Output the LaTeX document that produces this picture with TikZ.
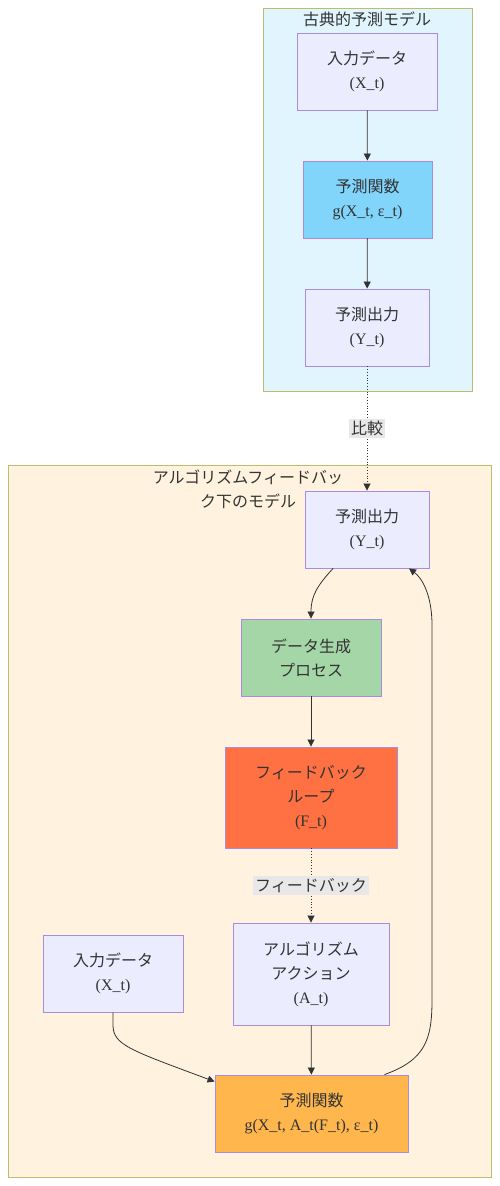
\documentclass[tikz,border=0pt]{standalone}
\usepackage{fontspec}
\setmainfont{Liberation Serif}
\newfontfamily\cjk{Noto Sans CJK JP}
\usetikzlibrary{arrows.meta}
\definecolor{ink}{HTML}{333333}
\definecolor{boxfill}{HTML}{ECECFF}
\definecolor{boxline}{HTML}{A98BDF}
\definecolor{clusterline}{HTML}{BDBD6E}
\definecolor{classicfill}{HTML}{E1F5FE}
\definecolor{loopfill}{HTML}{FFF3E0}
\definecolor{bluefill}{HTML}{81D4FA}
\definecolor{greenfill}{HTML}{A5D6A7}
\definecolor{redfill}{HTML}{FF7043}
\definecolor{orangefill}{HTML}{FFB74D}
\definecolor{lblfill}{HTML}{E8E8E8}
\tikzset{
  block/.style={rectangle, draw=boxline, fill=boxfill, line width=0.9pt,
                align=center, inner sep=0pt, text=ink,
                font=\fontsize{16}{24}\selectfont},
  cluster/.style={rectangle, draw=clusterline, line width=0.9pt,
                  inner sep=0pt},
  title/.style={align=center, inner sep=0pt, text=ink,
                font=\fontsize{16}{24}\selectfont\cjk},
  edgelabel/.style={fill=lblfill, inner sep=2pt, text=ink,
                    font=\fontsize{16}{20}\selectfont\cjk},
  arrow/.style={-{Triangle[length=7pt, width=7pt]}, line width=0.8pt, draw=ink},
}

\begin{document}
\begin{tikzpicture}[x=1pt, y=-1pt]
  \useasboundingbox (0,0) rectangle (499,1186);

  % clusters
  \node[cluster, fill=classicfill, minimum width=209pt, minimum height=383pt]
    (classic) at (367.5,199.5) {};
  \node[title] (classictitle) at (367,19) {古典的予測モデル};
  \node[cluster, fill=loopfill, minimum width=483pt, minimum height=712pt]
    (loop) at (249.5,821) {};
  \node[title] (looptitle) at (248,489) {アルゴリズムフィードバッ\\ク下のモデル};

  % classical model
  \node[block, minimum width=140pt, minimum height=77pt] (inA) at (367,71.5)
    {{\cjk 入力データ}\\(X\_t)};
  \node[block, fill=bluefill, minimum width=129pt, minimum height=77pt] (fnA) at (367.5,199.5)
    {{\cjk 予測関数}\\g(X\_t, ε\_t)};
  \node[block, minimum width=124pt, minimum height=77pt] (outA) at (367,327.5)
    {{\cjk 予測出力}\\(Y\_t)};

  % model under algorithmic feedback
  \node[block, minimum width=124pt, minimum height=77pt] (outB) at (367,529.5)
    {{\cjk 予測出力}\\(Y\_t)};
  \node[block, fill=greenfill, minimum width=140pt, minimum height=77pt] (gen) at (311,657.5)
    {{\cjk データ生成}\\{\cjk プロセス}};
  \node[block, fill=redfill, minimum width=172pt, minimum height=101pt] (fb) at (311,797.5)
    {{\cjk フィードバック}\\{\cjk ループ}\\(F\_t)};
  \node[block, minimum width=156pt, minimum height=102pt] (act) at (311,974)
    {{\cjk アルゴリズム}\\{\cjk アクション}\\(A\_t)};
  \node[block, minimum width=140pt, minimum height=77pt] (inB) at (113,973.5)
    {{\cjk 入力データ}\\(X\_t)};
  \node[block, fill=orangefill, minimum width=193pt, minimum height=77pt] (fnB) at (311.5,1113.5)
    {{\cjk 予測関数}\\g(X\_t, A\_t(F\_t), ε\_t)};

  \draw[arrow] (inA) -- (fnA);
  \draw[arrow] (fnA) -- (outA);
  \draw[arrow, dotted] (outA) -- node[edgelabel] (cmp) {比較} (outB);
  \draw[arrow] ([xshift=-34pt]outB.south) .. controls (318,585) and (311,595) .. (gen.north);
  \draw[arrow] (gen) -- (fb);
  \draw[arrow, dotted] (fb) -- node[edgelabel] (fbl) {フィードバック} (act);
  \draw[arrow] (act) -- (fnB);
  \draw[arrow] (inB.south) -- (113,1025) .. controls (113,1045) and (130,1050)
    .. ([yshift=-7pt]fnB.north west);
  \draw[arrow] ([xshift=73pt]fnB.north) .. controls (425,1060) and (432,1040) .. (432,1000)
    -- (432,625) .. controls (432,595) and (422,578) .. ([xshift=42pt]outB.south);
\end{tikzpicture}
\end{document}
